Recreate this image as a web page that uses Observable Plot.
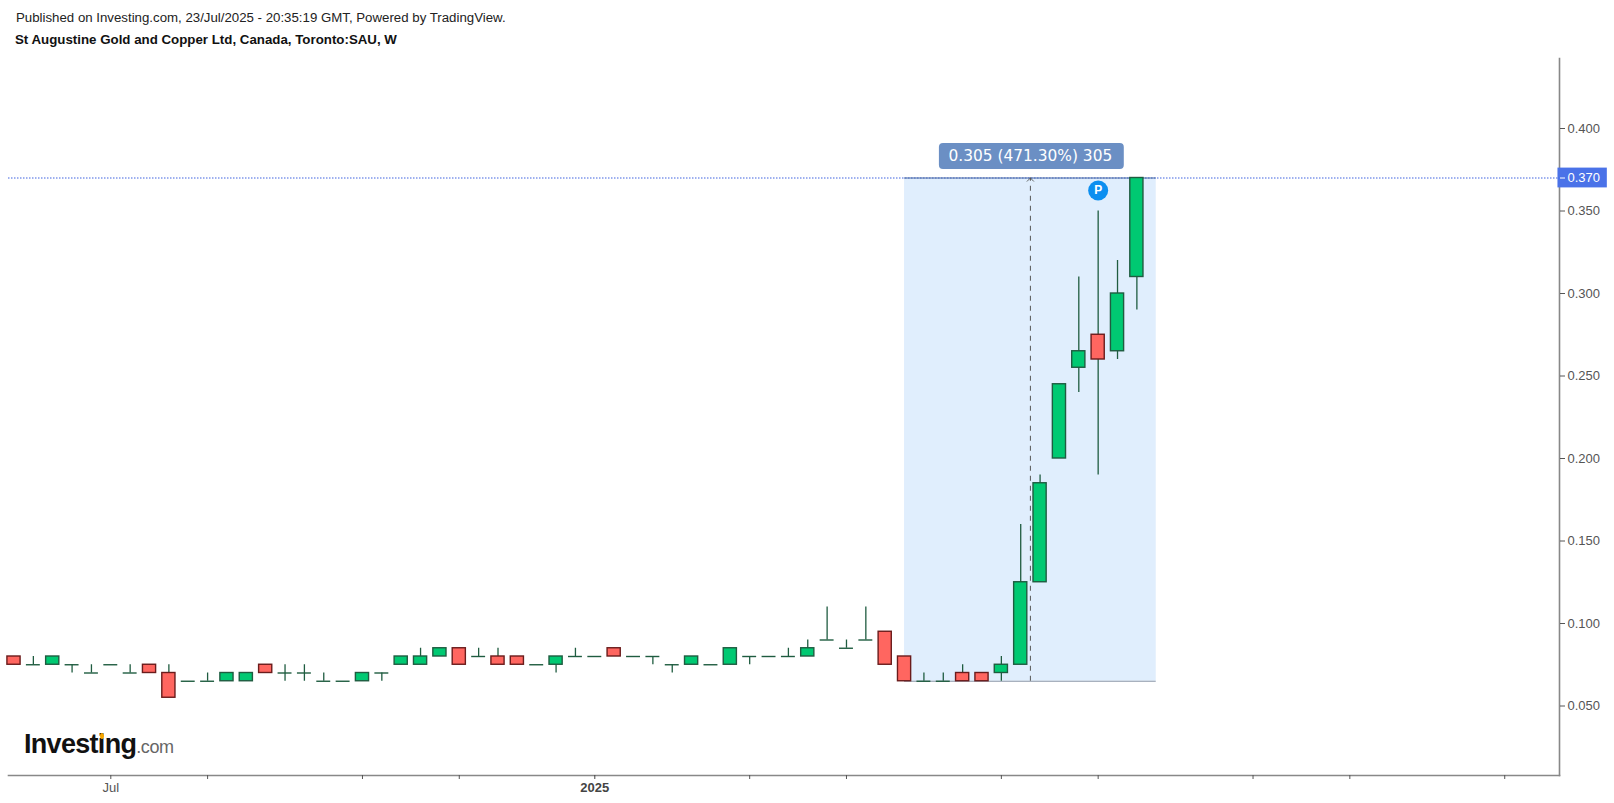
<!DOCTYPE html>
<html><head><meta charset="utf-8">
<script src="https://cdn.jsdelivr.net/npm/d3@7"></script>
<script src="https://cdn.jsdelivr.net/npm/@observablehq/plot@0.6"></script>
<style>
html,body{margin:0;padding:0;background:#fff;overflow:hidden;width:1614px;height:803px;font-family:"Liberation Sans",Arial,sans-serif}
#head{height:56px;position:relative}
#l1{position:absolute;left:16px;top:10px;font-size:13.25px;color:#222;white-space:nowrap}
#l2{position:absolute;left:15px;top:32px;font-size:13.3px;font-weight:bold;color:#111;white-space:nowrap}
#logo{position:absolute;left:24px;top:729px;white-space:nowrap;font-size:27px;font-weight:bold;letter-spacing:-.7px;color:#111}
#logo span{font-size:18px;font-weight:normal;color:#666;letter-spacing:-.4px}
#dot{position:absolute;left:100px;top:733px;width:4px;height:6px;border-radius:50%;background:#f7a600}
svg{display:block}
</style></head><body>
<div id="head"><div id="l1">Published on Investing.com, 23/Jul/2025 - 20:35:19 GMT, Powered by TradingView.</div>
<div id="l2">St Augustine Gold and Copper Ltd, Canada, Toronto:SAU, W</div></div>
<div id="chart"></div>
<div id="logo">Investing<span>.com</span></div><div id="dot"></div>
<script>
const opens =[.08,.075,.075,.075,.07,.075,.07,.075,.07,.065,.065,.065,.065,.075,.07,.07,.065,.065,.065,.07,.075,.075,.08,.085,.08,.08,.08,.075,.075,.08,.08,.085,.08,.08,.075,.075,.075,.075,.08,.08,.08,.08,.09,.085,.09,.095,.08,.065,.065,.07,.07,.07,.075,.125,.2,.255,.275,.265,.31];
const closes=[.075,.075,.08,.075,.07,.075,.07,.07,.055,.065,.065,.07,.07,.07,.07,.07,.065,.065,.07,.07,.08,.08,.085,.075,.08,.075,.075,.075,.08,.08,.08,.08,.08,.08,.075,.08,.075,.085,.08,.08,.08,.085,.09,.085,.09,.075,.065,.065,.065,.065,.065,.075,.125,.185,.245,.265,.26,.30,.37];
const highs =[.08,.08,.08,.075,.075,.075,.075,.075,.075,.065,.07,.07,.07,.075,.075,.075,.07,.065,.07,.07,.08,.085,.085,.085,.085,.085,.08,.075,.08,.085,.08,.085,.08,.08,.075,.08,.075,.085,.08,.08,.085,.09,.11,.09,.11,.095,.08,.07,.07,.075,.07,.08,.16,.19,.245,.31,.35,.32,.37];
const lows  =[.075,.075,.075,.07,.07,.075,.07,.07,.055,.065,.065,.065,.065,.07,.065,.065,.065,.065,.065,.065,.075,.075,.08,.075,.08,.075,.075,.075,.07,.08,.08,.08,.08,.075,.07,.075,.075,.075,.075,.08,.08,.08,.09,.085,.09,.075,.065,.065,.065,.065,.065,.065,.075,.125,.2,.24,.19,.26,.29];
const priceTicks=[.05,.1,.15,.2,.25,.3,.35,.4];
const timeTicks=[5,10,18,23,38,43,51,56,64,69,77];
const timeLabels={5:"Jul"};
const yearTick=[30], yearLabel="2025";
const lastPrice=.37, basePrice=.065, rangeStart=46, rangeEnd=59, rangeMid=52.5;
const rangeLabel="0.305 (471.30%) 305";

const candles=opens.map((o,i)=>({i,o,c:closes[i],h:highs[i],l:lows[i]}));
const bodies=candles.filter(d=>d.o!==d.c), dojis=candles.filter(d=>d.o===d.c);
const chevron={draw(c){c.moveTo(-3.5,3.5);c.lineTo(0,0);c.lineTo(3.5,3.5);}};
const chart=Plot.plot({
  width:1614,height:747,marginLeft:8,marginRight:55,marginTop:2,marginBottom:28,
  style:{background:"#fff",fontFamily:"'Liberation Sans',Arial,sans-serif",fontSize:"13px",color:"#555"},
  x:{type:"linear",domain:[0,77],range:[13.5,13.5+77*19.36],axis:null},
  y:{type:"linear",domain:[.05,.4],range:[649.5,72],axis:null},
  marks:[
    Plot.rect([0],{x1:rangeStart,x2:rangeEnd,y1:basePrice,y2:lastPrice,fill:"#e0eefd"}),
    Plot.ruleY([basePrice],{x1:rangeStart,x2:rangeEnd,stroke:"#8b97a8",strokeWidth:1.2}),
    Plot.ruleY([lastPrice],{stroke:"#3f63e0",strokeWidth:1,strokeDasharray:"1.5 1.5"}),
    Plot.ruleY([lastPrice],{x1:rangeStart,x2:rangeEnd,stroke:"#4c6aa0",strokeWidth:1}),
    Plot.ruleX([rangeMid],{y1:basePrice,y2:lastPrice,stroke:"#555",strokeWidth:1,strokeDasharray:"5 5"}),
    Plot.dot([0],{x:rangeMid,y:lastPrice,symbol:chevron,r:4,fill:"none",stroke:"#555",strokeWidth:.9}),
    Plot.ruleX(candles,{x:"i",y1:"l",y2:"h",stroke:"#1f5c40",strokeWidth:1.3}),
    Plot.ruleY(dojis,{y:"o",x1:d=>d.i-.36,x2:d=>d.i+.36,stroke:"#1f5c40",strokeWidth:1.4}),
    Plot.rect(bodies,{x1:d=>d.i-.34,x2:d=>d.i+.34,y1:"o",y2:"c",
      fill:d=>d.c>=d.o?"#00c972":"#ff6660",
      stroke:d=>d.c>=d.o?"#1f5c40":"#6a1c1c",strokeWidth:1.4}),
    Plot.rect([0],{x1:47.8,x2:57.35,y1:.3752,y2:.3909,fill:"#6b8fc4",rx:4}),
    Plot.text([rangeLabel],{x:rangeMid,y:.3832,text:d=>d,fill:"#fff",fontSize:15.4,fontFamily:"'DejaVu Sans'"}),
    Plot.dot([0],{x:56,y:.3624,r:10,fill:"#0c8ff0"}),
    Plot.text(["P"],{x:56,y:.3624,text:d=>d,fill:"#fff",fontSize:12,fontWeight:"bold"}),
    Plot.frame({anchor:"bottom",stroke:"#888",strokeWidth:1.6}),
    Plot.frame({anchor:"right",stroke:"#888",strokeWidth:1.6}),
    Plot.rect([0],{x1:79.75,x2:82.3,y1:lastPrice-.006,y2:lastPrice+.006,fill:"#4a72e8"}),
    Plot.axisY(priceTicks,{anchor:"right",tickSize:5,tickPadding:3,tickFormat:d3.format(".3f"),label:null,color:"#555",fontSize:13}),
    Plot.axisY([lastPrice],{anchor:"right",tickSize:5,tickPadding:3,tickFormat:d3.format(".3f"),label:null,color:"#fff",fontSize:13}),
    Plot.axisX(timeTicks,{anchor:"bottom",tickSize:4,tickPadding:3,tickFormat:d=>timeLabels[d]||"",label:null,color:"#555",fontSize:13}),
    Plot.axisX(yearTick,{anchor:"bottom",tickSize:4,tickPadding:3,tickFormat:()=>yearLabel,label:null,color:"#444",fontSize:13,fontWeight:"bold"})
  ]
});
document.getElementById("chart").append(chart);
</script></body></html>
